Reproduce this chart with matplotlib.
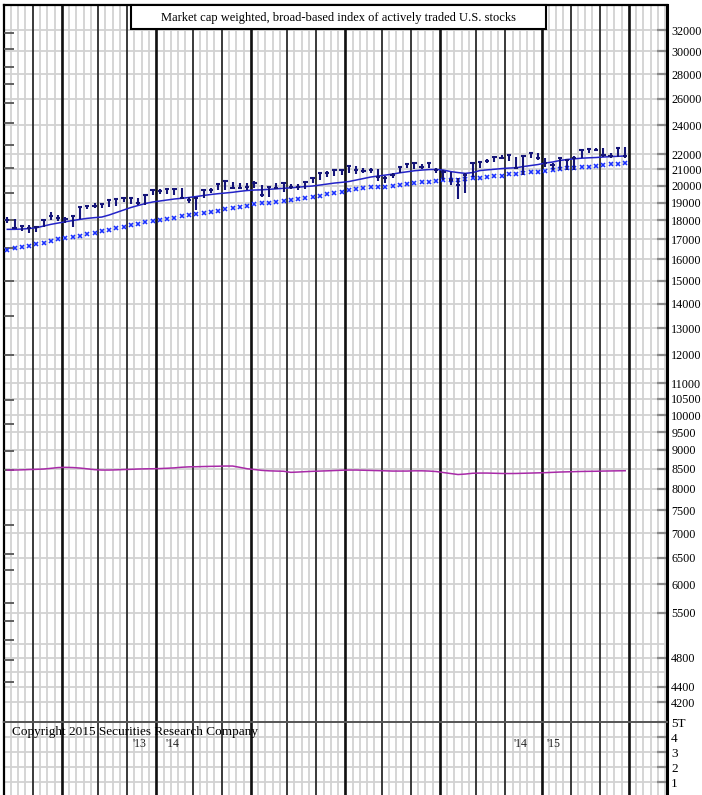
import matplotlib
matplotlib.use("Agg")
import matplotlib.pyplot as plt
import matplotlib.patches as mpatches
import numpy as np

plt.rcParams["font.family"] = ["Liberation Serif", "DejaVu Serif"]

# weekly price bars (index level)
highs = [18170, 18060, 17700, 17750, 17700, 18020, 18440, 18280, 18170, 18240,
         18730, 18820, 18990, 18900, 19150, 19210, 19340, 19310, 19250, 19440,
         19730, 19770, 19770, 19770, 19830, 19310, 19250, 19730, 19830, 20075,
         20280, 20235, 20135, 20135, 20300, 20030, 19890, 20175, 20135, 20075,
         20090, 20195, 20445, 20750, 20915, 20960, 20960, 21215, 21215, 21070,
         21070, 21000, 20580, 20790, 21170, 21345, 21390, 21345, 21390, 21070,
         20960, 20850, 20445, 20750, 21390, 21470, 21670, 21830, 21940, 21940,
         21830, 21890, 22050, 22050, 21720, 21390, 21720, 21610, 21890, 22270,
         22340, 22380, 22420, 22050, 22420, 22490]
lows = [17880, 17580, 17450, 17345, 17400, 17630, 18020, 17970, 17880, 17630,
        18060, 18615, 18670, 18670, 18730, 18820, 19050, 18920, 18860, 18860,
        19440, 19500, 19500, 19440, 19190, 18960, 18580, 19250, 19570, 19730,
        19730, 19770, 19770, 19730, 19830, 19340, 19310, 19770, 19630, 19770,
        19730, 19770, 20135, 20340, 20500, 20580, 20645, 20750, 20710, 20750,
        20790, 20295, 20175, 20445, 20750, 21070, 21000, 21000, 21070, 20750,
        20340, 20030, 19190, 19570, 20540, 21070, 21390, 21500, 21670, 21540,
        21070, 20680, 21720, 21610, 21170, 20960, 20960, 20960, 20960, 21720,
        22050, 22200, 21830, 21720, 21830, 21760]
closes = [18020, 17590, 17700, 17590, 17650, 18020, 18240, 18115, 18095, 18240,
          18730, 18820, 18820, 18900, 19150, 19210, 19250, 19270, 18960, 19440,
          19730, 19675, 19770, 19770, 19265, 19150, 19250, 19730, 19730, 20075,
          20280, 19830, 19830, 19930, 20135, 19440, 19890, 19830, 20135, 19930,
          19930, 20195, 20445, 20750, 20750, 20960, 20960, 21215, 20960, 20915,
          20960, 20540, 20445, 20645, 21170, 21345, 21390, 21130, 21390, 20960,
          20850, 20340, 20030, 20645, 21390, 21470, 21560, 21830, 21760, 21940,
          21110, 21890, 22050, 21720, 21410, 21280, 21720, 21610, 21720, 22270,
          22340, 22270, 21940, 21890, 22420, 21870]

# solid moving average
ma_short = [17524, 17524, 17540, 17566, 17609, 17699, 17790, 17861, 17931, 17996,
            18061, 18116, 18154, 18187, 18298, 18437, 18577, 18718, 18833, 18947,
            19033, 19091, 19149, 19207, 19248, 19294, 19352, 19411, 19469, 19517,
            19558, 19599, 19657, 19704, 19734, 19746, 19776, 19806, 19836, 19866,
            19902, 19944, 19974, 20032, 20093, 20154, 20197, 20247, 20339, 20431,
            20524, 20586, 20645, 20707, 20789, 20852, 20916, 20960, 20992, 21004,
            20960, 20865, 20802, 20752, 20802, 20928, 20973, 21011, 21055, 21087,
            21106, 21185, 21249, 21313, 21410, 21475, 21574, 21640, 21685, 21725,
            21751, 21771, 21804, 21831, 21851, 21871]

# x-marked long moving average
ma_long = [16462, 16547, 16597, 16662, 16748, 16830, 16916, 17003, 17085, 17137,
           17199, 17262, 17345, 17450, 17487, 17577, 17662, 17753, 17807, 17931,
           17985, 18023, 18078, 18148, 18242, 18298, 18353, 18426, 18482, 18538,
           18616, 18673, 18764, 18821, 18901, 18958, 18992, 19051, 19091, 19149,
           19207, 19248, 19340, 19399, 19481, 19540, 19633, 19734, 19776, 19836,
           19896, 19933, 19933, 19990, 20032, 20093, 20175, 20235, 20235, 20277,
           20339, 20339, 20339, 20382, 20443, 20480, 20539, 20583, 20601, 20689,
           20707, 20752, 20815, 20852, 20897, 20960, 21024, 21069, 21069, 21133,
           21172, 21236, 21281, 21326, 21326, 21390]

# relative strength line
rel_strength = [8469, 8469, 8474, 8482, 8487, 8495, 8513, 8533, 8538, 8533,
                8520, 8500, 8479, 8469, 8469, 8474, 8482, 8487, 8495, 8500,
                8502, 8507, 8515, 8525, 8541, 8551, 8554, 8559, 8564, 8567,
                8572, 8572, 8538, 8502, 8482, 8461, 8449, 8443, 8438, 8410,
                8418, 8428, 8436, 8443, 8449, 8456, 8464, 8469, 8469, 8464,
                8459, 8454, 8449, 8443, 8443, 8443, 8449, 8449, 8443, 8431,
                8405, 8380, 8355, 8367, 8387, 8392, 8392, 8387, 8382, 8380,
                8382, 8387, 8392, 8397, 8402, 8410, 8418, 8423, 8428, 8433,
                8436, 8438, 8443, 8446, 8449, 8451]

# month boundaries (in weeks) and quarter starts
month_breaks = [3.5, 7.5, 12.5, 16.5, 20.5, 25.5, 29.5, 33.5, 38.5, 42.5,
                46.5, 51.5, 55.5, 59.5, 64.5, 68.5, 73.5, 77.5, 81.5, 85.5]
quarter_breaks = [7.5, 20.5, 33.5, 46.5, 59.5, 73.5, 85.5]

price_labels = [32000, 30000, 28000, 26000, 24000, 22000, 21000, 20000, 19000,
                18000, 17000, 16000, 15000, 14000, 13000, 12000, 11000, 10500,
                10000, 9500, 9000, 8500, 8000, 7500, 7000, 6500, 6000, 5500,
                4800, 4400, 4200]
extra_grid = [11500, 5000, 4600]
left_ticks = [31710, 30215, 28614, 27184, 25667, 24161, 22608, 21091, 19556,
              18023, 16564, 14993, 13485, 11987, 10464, 9735, 8970, 8469, 7171,
              6569, 6262, 5667, 5366, 5070, 4771, 4463]

vol_ticks = [1, 2, 3, 4, 5]
vol_labels = ["1", "2", "3", "4", "5T"]

year_labels = ["'13", "'14", "'14", "'15"]
year_pos = [17.2, 21.7, 69.6, 74.2]

title_text = "Market cap weighted, broad-based index of actively traded U.S. stocks"
copyright_text = "Copyright 2015 Securities Research Company"

W, H = 702, 795
weeks = np.arange(len(closes))
xlim = (-0.45, 90.75)
grid_c = "#d2d2d2"
bar_c = "#15157a"

fig = plt.figure(figsize=(W / 100, H / 100), dpi=100)
ax = fig.add_axes([4 / W, 1 - 722 / H, 663 / W, 717 / H])
axv = fig.add_axes([4 / W, 1 - 797.5 / H, 663 / W, 75.5 / H])

for a in (ax, axv):
    a.set_xlim(*xlim)
    for wk in np.arange(-0.5, 91, 1.0):
        a.axvline(wk, color=grid_c, lw=1.3, zorder=0)
    for mb in month_breaks:
        lw = 1.9 if mb in quarter_breaks else 1.1
        a.axvline(mb, color="#111111", lw=lw, zorder=1)
    a.set_xticks([])
    a.spines["left"].set_linewidth(1.6)
    a.spines["right"].set_linewidth(2.2)
    a.spines["bottom"].set_visible(False)

# price panel
ax.set_yscale("log")
ax.set_ylim(3956, 34512)
for lvl in price_labels + extra_grid:
    ax.axhline(lvl, color=grid_c, lw=1.3, zorder=0)
ax.yaxis.tick_right()
ax.set_yticks(price_labels)
ax.set_yticklabels([str(v) for v in price_labels])
ax.yaxis.set_minor_locator(matplotlib.ticker.NullLocator())
ax.tick_params(axis="y", direction="in", length=7, width=1.6, color="#8a8a8a",
               pad=3, labelsize=8.7)
ax.spines["top"].set_linewidth(1.6)
ax.hlines(left_ticks, 0, 10 / 663, transform=ax.get_yaxis_transform(),
          color="#555555", lw=1.3, zorder=3)

ax.vlines(weeks, lows, highs, color=bar_c, lw=1.5, zorder=4)
ax.hlines(closes, weeks - 0.3, weeks + 0.3, color=bar_c, lw=1.5, zorder=4)
ax.plot(weeks, ma_short, color="#2323c8", lw=1.1, zorder=3)
ax.plot(weeks, ma_long, ls="none", marker="s", ms=3.4, mew=0, color="#dde3ff", zorder=2)
ax.plot(weeks, ma_long, ls="none", marker="x", ms=3.0, mew=1.1, color="#1a30ff", zorder=3)
ax.plot(weeks, rel_strength, color="#a82aa8", lw=1.1, zorder=3)

box = mpatches.Rectangle((131 / W, 1 - 29 / H), 415 / W, 24 / H, transform=fig.transFigure,
                         facecolor="white", edgecolor="black", lw=1.5, zorder=5)
fig.add_artist(box)
fig.text(338.5 / W, 1 - 17.5 / H, title_text, ha="center", va="center", fontsize=9, zorder=6)

# volume panel
axv.set_ylim(0, 5)
for v in vol_ticks[:-1]:
    axv.axhline(v, color=grid_c, lw=1.3, zorder=0)
axv.spines["top"].set_color("#555555")
axv.spines["top"].set_linewidth(1.4)
axv.yaxis.tick_right()
axv.set_yticks(vol_ticks)
axv.set_yticklabels(vol_labels)
axv.tick_params(axis="y", direction="in", length=7, width=1.6, color="#8a8a8a",
                pad=3, labelsize=9.5)
axv.text(8 / 663, 1 - 10 / 75.5, copyright_text, transform=axv.transAxes,
         ha="left", va="center", fontsize=9.5)
for lab, pos in zip(year_labels, year_pos):
    axv.text(pos, 3.55, lab, ha="left", va="center", fontsize=8.5, color="#222222")

fig.savefig("out.png", dpi=100)
